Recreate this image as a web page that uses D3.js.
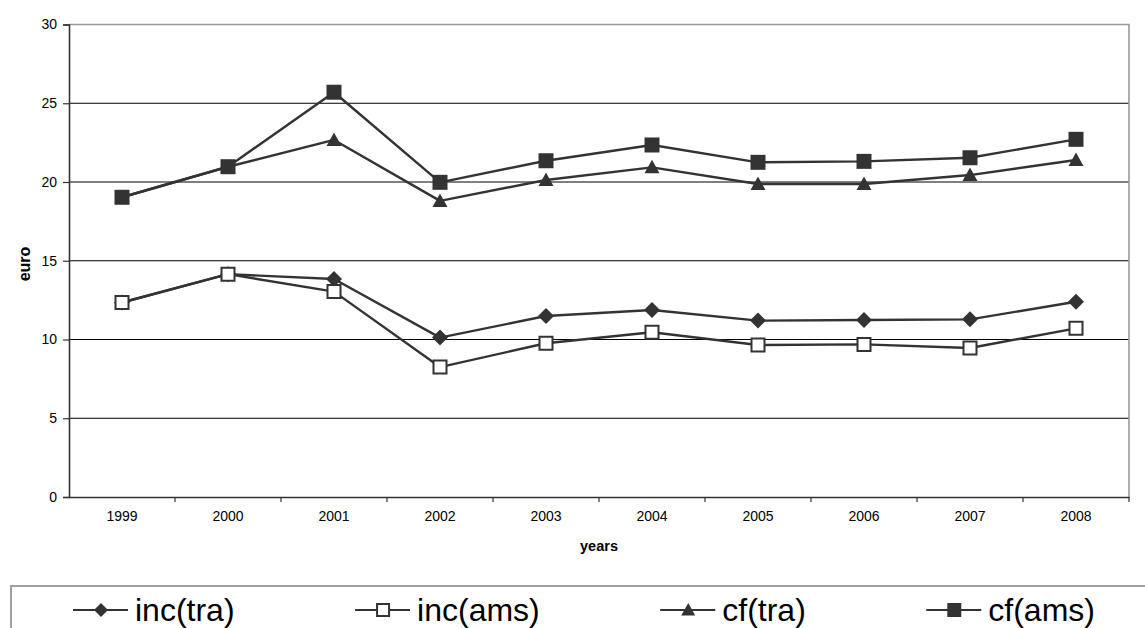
<!DOCTYPE html>
<html>
<head>
<meta charset="utf-8">
<script src="https://cdn.jsdelivr.net/npm/d3@7"></script>
<style>
  html, body { margin: 0; padding: 0; background: #fff; }
  svg { display: block; font-family: "Liberation Sans", Arial, sans-serif; }
</style>
</head>
<body>
<svg id="chart" width="1145" height="628"></svg>
<script>
// Category axis and series values (euro)
const years = ["1999", "2000", "2001", "2002", "2003", "2004", "2005", "2006", "2007", "2008"];
const incTra = [12.35, 14.15, 13.84, 10.12, 11.49, 11.87, 11.20, 11.24, 11.28, 12.40];
const incAms = [12.35, 14.15, 13.04, 8.25, 9.76, 10.46, 9.65, 9.69, 9.46, 10.71];
const cfTra  = [19.03, 20.97, 22.67, 18.80, 20.13, 20.93, 19.87, 19.87, 20.44, 21.40];
const cfAms  = [19.03, 20.97, 25.70, 19.98, 21.35, 22.35, 21.25, 21.31, 21.54, 22.71];
const yTicks = [0, 5, 10, 15, 20, 25, 30];
const seriesNames = ["inc(tra)", "inc(ams)", "cf(tra)", "cf(ams)"];

const series = [
  { name: seriesNames[0], values: incTra, marker: "diamond" },
  { name: seriesNames[1], values: incAms, marker: "openSquare" },
  { name: seriesNames[2], values: cfTra,  marker: "triangle" },
  { name: seriesNames[3], values: cfAms,  marker: "square" }
];

const ink = "#333333";
const svg = d3.select("#chart");

const plot = { left: 69, right: 1129, top: 24.5, bottom: 497 };

const x = d3.scaleBand().domain(years).range([plot.left, plot.right]).padding(0);
const y = d3.scaleLinear().domain([0, 30]).range([plot.bottom, plot.top]);

// Horizontal gridlines
svg.append("g")
  .selectAll("line")
  .data(yTicks.filter(t => t > 0 && t < 30))
  .join("line")
  .attr("x1", plot.left).attr("x2", plot.right)
  .attr("y1", d => y(d)).attr("y2", d => y(d))
  .attr("stroke", "#000").attr("stroke-width", 1);

// Plot-area frame: top and right in gray
svg.append("path")
  .attr("d", `M${plot.left},${y(30)}H${plot.right}V${plot.bottom}`)
  .attr("fill", "none").attr("stroke", "#999").attr("stroke-width", 1.6);

// Y axis
const yAxis = svg.append("g")
  .attr("transform", `translate(${plot.left},0)`)
  .call(d3.axisLeft(y).tickValues(yTicks).tickSize(6).tickPadding(6));
yAxis.select(".domain").attr("stroke", ink).attr("stroke-width", 1.6);
yAxis.selectAll(".tick line").attr("stroke", ink).attr("stroke-width", 1.2);
yAxis.selectAll("text").attr("font-size", 14).attr("fill", "#000")
  .attr("font-family", "Liberation Sans, Arial, sans-serif");

// X axis with ticks on category boundaries
const xAxis = svg.append("g")
  .attr("transform", `translate(0,${plot.bottom})`)
  .call(d3.axisBottom(x).tickSize(0).tickPadding(14));
xAxis.select(".domain").attr("stroke", ink).attr("stroke-width", 1.6);
xAxis.selectAll("text").attr("font-size", 14).attr("fill", "#000")
  .attr("font-family", "Liberation Sans, Arial, sans-serif");
xAxis.selectAll(".boundary")
  .data(years.slice(1).concat(["end"]))
  .join("line")
  .attr("class", "boundary")
  .attr("x1", (d, i) => plot.left + x.step() * (i + 1))
  .attr("x2", (d, i) => plot.left + x.step() * (i + 1))
  .attr("y1", 0).attr("y2", 5)
  .attr("stroke", ink).attr("stroke-width", 1.2);

// Axis titles
svg.append("text")
  .attr("transform", `translate(30,264) rotate(-90)`)
  .attr("text-anchor", "middle")
  .attr("font-size", 16).attr("font-weight", "bold")
  .text("euro");
svg.append("text")
  .attr("x", (plot.left + plot.right) / 2).attr("y", 551)
  .attr("text-anchor", "middle")
  .attr("font-size", 14.5).attr("font-weight", "bold")
  .text("years");

// Marker shapes, centred on (0,0)
function markerPath(type, s) {
  const h = s / 2;
  switch (type) {
    case "diamond": return `M0,${-h}L${h},0L0,${h}L${-h},0Z`;
    case "triangle": return `M0,${-h}L${h},${h * 0.8}L${-h},${h * 0.8}Z`;
    default: return `M${-h},${-h}H${h}V${h}H${-h}Z`;
  }
}
function drawMarker(g, type, size) {
  if (type === "openSquare") {
    const s = size - 2;
    g.append("path").attr("d", markerPath("square", s))
      .attr("fill", "#fff").attr("stroke", ink).attr("stroke-width", 2);
  } else {
    g.append("path").attr("d", markerPath(type, size))
      .attr("fill", ink).attr("stroke", "none");
  }
}

const line = d3.line()
  .x((d, i) => x(years[i]) + x.bandwidth() / 2)
  .y(d => y(d));

// Lines and markers, series by series
series.forEach(s => {
  const g = svg.append("g");
  g.append("path")
    .attr("d", line(s.values))
    .attr("fill", "none").attr("stroke", ink).attr("stroke-width", 2.4)
    .attr("stroke-linejoin", "round");
  s.values.forEach((v, i) => {
    const m = g.append("g")
      .attr("transform", `translate(${x(years[i]) + x.bandwidth() / 2},${y(v)})`);
    drawMarker(m, s.marker, s.marker === "diamond" ? 16 : 15);
  });
});

// Legend box (runs off the right and bottom edges)
svg.append("rect")
  .attr("x", 11).attr("y", 586).attr("width", 1160).attr("height", 60)
  .attr("fill", "#fff").attr("stroke", "#888").attr("stroke-width", 1.6);

const legend = svg.append("g");
let cursor = 73;
const legendY = 610;
series.forEach(s => {
  const item = legend.append("g").attr("transform", `translate(${cursor},0)`);
  item.append("line")
    .attr("x1", 0).attr("x2", 55)
    .attr("y1", legendY).attr("y2", legendY)
    .attr("stroke", ink).attr("stroke-width", 2);
  const m = item.append("g").attr("transform", `translate(28,${legendY})`);
  drawMarker(m, s.marker, s.marker === "openSquare" ? 14 : 14);
  const t = item.append("text")
    .attr("x", 62).attr("y", 621)
    .attr("font-size", 32).attr("fill", "#000")
    .text(s.name);
  cursor += 62 + t.node().getComputedTextLength() + 120.5;
});
</script>
</body>
</html>
